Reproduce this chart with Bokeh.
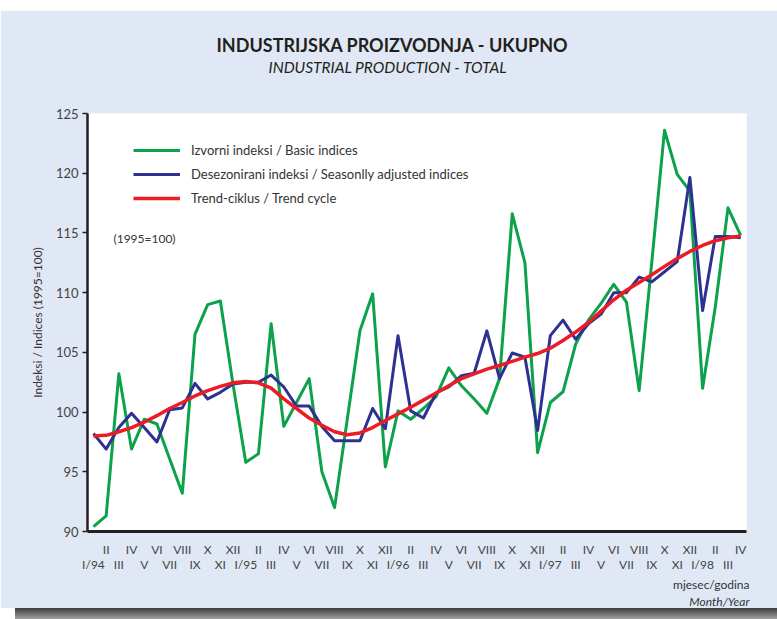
import math
from bokeh.plotting import figure
from bokeh.layouts import column
from bokeh.models import (Range1d, FixedTicker, LinearAxis, Label, Legend, LegendItem, Title,
                          Div, Spacer)
from bokeh.embed import file_html
from bokeh.resources import INLINE

# ---- data -------------------------------------------------------------
roman = ["I", "II", "III", "IV", "V", "VI", "VII", "VIII", "IX", "X", "XI", "XII"]
years = ["94", "95", "96", "97", "98"]

basic_indices = [
    90.4, 91.3, 103.2, 96.9, 99.4, 99.0, 96.1, 93.2, 106.5, 109.0, 109.3, 102.3,
    95.8, 96.5, 107.4, 98.8, 100.8, 102.8, 95.0, 92.0, 99.4, 106.8, 109.9, 95.4,
    100.1, 99.4, 100.3, 101.3, 103.7, 102.2, 101.1, 99.9, 102.8, 116.6, 112.5, 96.6,
    100.8, 101.7, 105.7, 107.7, 109.1, 110.7, 109.2, 101.8, 112.6, 123.6, 119.9, 118.5,
    102.0, 108.8, 117.1, 114.8,
]
seasonally_adjusted = [
    98.2, 96.9, 98.7, 99.9, 98.7, 97.5, 100.2, 100.35, 102.4, 101.1, 101.65, 102.35,
    102.5, 102.5, 103.1, 102.1, 100.5, 100.5, 98.8, 97.6, 97.6, 97.6, 100.3, 98.6,
    106.4, 100.1, 99.5, 101.6, 102.1, 103.05, 103.25, 106.8, 102.8, 104.95, 104.6, 98.45,
    106.4, 107.7, 106.1, 107.4, 108.2, 110.0, 110.0, 111.3, 110.9, 111.75, 112.6, 119.65,
    108.5, 114.7, 114.7, 114.6,
]
trend_cycle = [
    98.0, 98.05, 98.35, 98.7, 99.15, 99.7, 100.3, 100.8, 101.35, 101.8, 102.15, 102.45,
    102.55, 102.45, 102.0, 101.1, 100.3, 99.5, 98.9, 98.35, 98.1, 98.25, 98.7, 99.3,
    99.85, 100.4, 101.0, 101.6, 102.2, 102.8, 103.2, 103.6, 103.9, 104.25, 104.6, 104.9,
    105.35, 106.0, 106.7, 107.5, 108.45, 109.4, 110.2, 110.85, 111.5, 112.2, 112.85, 113.45,
    113.95, 114.35, 114.6, 114.75,
]
y_ticks = [90, 95, 100, 105, 110, 115, 120, 125]

n = len(basic_indices)
x = list(range(n))
month_labels = []
for i in x:
    m, yr = i % 12, i // 12
    month_labels.append(f"I/{years[yr]}" if m == 0 else roman[m])

# ---- figure -----------------------------------------------------------
BG = "#e1e8f5"
TXT = "#333333"
FONT = "Lato"

p = figure(width=777, height=598,
           x_range=Range1d(-0.47, 51.46), y_range=Range1d(90, 125),
           output_backend="svg", toolbar_location=None,
           min_border_left=87, min_border_right=31,
           min_border_top=103, min_border_bottom=77,
           border_fill_color=BG, background_fill_color="white",
           outline_line_color=None)
p.grid.visible = False

# y axis
p.yaxis.ticker = FixedTicker(ticks=y_ticks)
p.yaxis.axis_line_width = 2.5
p.yaxis.axis_line_color = "#231f20"
p.yaxis.major_tick_out = 5
p.yaxis.major_tick_in = 0
p.yaxis.major_tick_line_width = 1.5
p.yaxis.major_tick_line_color = "#231f20"
p.yaxis.minor_tick_line_color = None
p.yaxis.major_label_text_font = FONT
p.yaxis.major_label_text_font_size = "13px"
p.yaxis.major_label_text_color = "#444444"
p.yaxis.major_label_standoff = 4
p.yaxis.axis_label = "Indeksi / Indices (1995=100)"
p.yaxis.axis_label_text_font = FONT
p.yaxis.axis_label_text_font_style = "normal"
p.yaxis.axis_label_text_font_size = "12px"
p.yaxis.axis_label_text_color = TXT
p.yaxis.axis_label_standoff = 8

# x axis (even months, upper row)
even = [i for i in x if i % 2 == 1]
odd = [i for i in x if i % 2 == 0]
p.xaxis.ticker = FixedTicker(ticks=even)
p.xaxis.major_label_overrides = {i: month_labels[i] for i in even}
p.xaxis.axis_line_width = 3
p.xaxis.axis_line_color = "#231f20"
p.xaxis.major_tick_out = 0
p.xaxis.major_tick_in = 0
p.xaxis.minor_tick_line_color = None
p.xaxis.major_label_text_font = FONT
p.xaxis.major_label_text_font_size = "12px"
p.xaxis.major_label_text_color = "#444444"
p.xaxis.major_label_standoff = 10

ax2 = LinearAxis(ticker=FixedTicker(ticks=odd),
                 major_label_overrides={i: month_labels[i] for i in odd},
                 axis_line_color=None, major_tick_line_color=None,
                 minor_tick_line_color=None, major_tick_out=0, major_tick_in=0,
                 major_label_text_font=FONT, major_label_text_font_size="12px",
                 major_label_text_color="#444444", major_label_standoff=-3)
p.add_layout(ax2, "below")

# series
g = p.line(x, basic_indices, line_color="#0ca24c", line_width=3, line_join="round")
b = p.line(x, seasonally_adjusted, line_color="#2e3192", line_width=3, line_join="round")
r = p.line(x, trend_cycle, line_color="#ec1c24", line_width=3.5, line_join="round")

legend = Legend(items=[
    LegendItem(label="Izvorni indeksi / Basic indices", renderers=[g]),
    LegendItem(label="Desezonirani indeksi / Seasonlly adjusted indices", renderers=[b]),
    LegendItem(label="Trend-ciklus / Trend cycle", renderers=[r]),
], location=(46, 323), glyph_width=47, glyph_height=20, label_height=20,
   spacing=4, padding=0, margin=0, label_standoff=11,
   border_line_color=None, background_fill_alpha=0,
   label_text_font=FONT, label_text_font_size="13px", label_text_color=TXT)
p.add_layout(legend, "center")

p.add_layout(Label(x=(113 - 93) / 12.69, y=90 + (531 - 238) / 11.943, text="(1995=100)",
                   text_font=FONT, text_font_size="12px", text_color=TXT,
                   text_baseline="middle"))

# titles (above: first added is closest to the plot)
p.add_layout(Title(text=" ", text_font_size="14px", standoff=20), "above")
p.add_layout(Title(text="INDUSTRIAL PRODUCTION - TOTAL", align="left", offset=181,
                   text_font=FONT, text_font_style="italic", text_font_size="15.5px",
                   text_color="#231f20", standoff=0), "above")
p.add_layout(Title(text="INDUSTRIJSKA PROIZVODNJA - UKUPNO", align="left", offset=129,
                   text_font=FONT, text_font_style="bold", text_font_size="18px",
                   text_color="#231f20", standoff=0), "above")

# axis title below, right aligned
p.add_layout(Title(text="mjesec/godina", align="right", offset=-3,
                   text_font=FONT, text_font_style="normal", text_font_size="12px",
                   text_color=TXT, standoff=0), "below")
p.add_layout(Title(text="Month/Year", align="right", offset=-3,
                   text_font=FONT, text_font_style="italic", text_font_size="12px",
                   text_color=TXT, standoff=0), "below")

top_gap = Spacer(width=777, height=10)
shadow = Div(text="", width=762, height=11, margin=(0, 0, 0, 15),
             styles={"background": "linear-gradient(#3c3c3c, #a0a0a0)"})

layout = column(top_gap, p, shadow, spacing=0)
open("out.html", "w").write(file_html(layout, INLINE))
